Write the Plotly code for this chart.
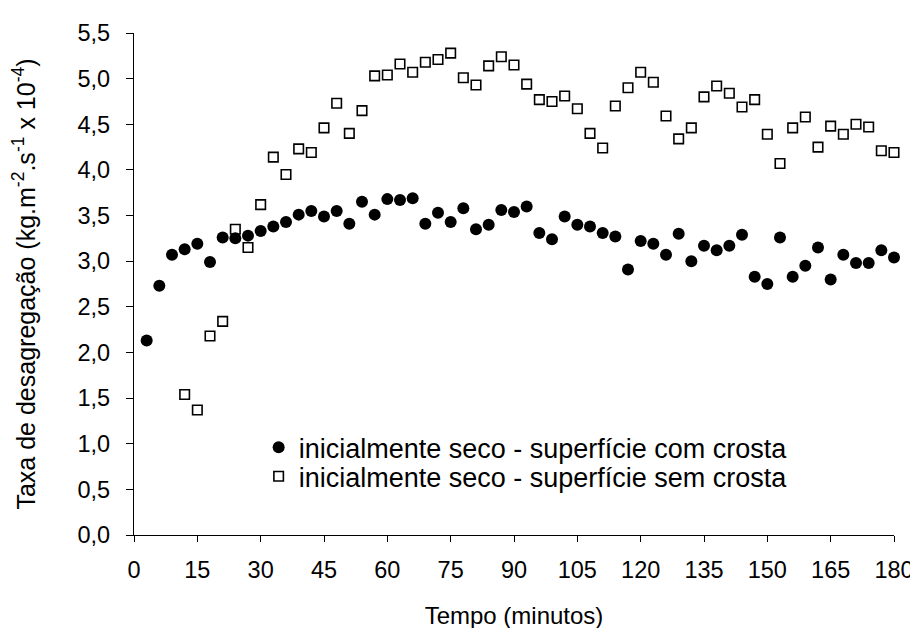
import plotly.graph_objects as go

# Time (minutes)
tempo_com = list(range(3, 181, 3))
taxa_com = [2.13, 2.73, 3.07, 3.13, 3.19, 2.99, 3.26, 3.25, 3.28, 3.33,
            3.38, 3.43, 3.51, 3.55, 3.49, 3.55, 3.41, 3.65, 3.51, 3.68,
            3.67, 3.69, 3.41, 3.53, 3.43, 3.58, 3.35, 3.40, 3.56, 3.54,
            3.60, 3.31, 3.24, 3.49, 3.40, 3.38, 3.31, 3.27, 2.91, 3.22,
            3.19, 3.07, 3.30, 3.00, 3.17, 3.12, 3.17, 3.29, 2.83, 2.75,
            3.26, 2.83, 2.95, 3.15, 2.80, 3.07, 2.98, 2.98, 3.12, 3.04]

tempo_sem = list(range(12, 181, 3))
taxa_sem = [1.54, 1.37, 2.18, 2.34, 3.35, 3.15, 3.62, 4.14, 3.95, 4.23,
            4.19, 4.46, 4.73, 4.40, 4.65, 5.03, 5.04, 5.16, 5.07, 5.18,
            5.21, 5.28, 5.01, 4.93, 5.14, 5.24, 5.15, 4.94, 4.77, 4.75,
            4.81, 4.67, 4.40, 4.24, 4.70, 4.90, 5.07, 4.96, 4.59, 4.34,
            4.46, 4.80, 4.92, 4.84, 4.69, 4.77, 4.39, 4.07, 4.46, 4.58,
            4.25, 4.48, 4.39, 4.50, 4.47, 4.21, 4.19]

x_ticks = list(range(0, 181, 15))
y_ticks = [i * 0.5 for i in range(12)]

nome_com = "inicialmente seco - superfície com crosta"
nome_sem = "inicialmente seco - superfície sem crosta"

FONT = "Arial, Liberation Sans, sans-serif"

fig = go.Figure()
fig.add_trace(go.Scatter(
    x=tempo_com, y=taxa_com, mode="markers", name=nome_com,
    marker=dict(symbol="circle", size=12, color="black", line=dict(width=0)),
    cliponaxis=False, legend="legend",
))
fig.add_trace(go.Scatter(
    x=tempo_sem, y=taxa_sem, mode="markers", name=nome_sem,
    marker=dict(symbol="square-open", size=9.5, color="black", line=dict(width=1.6, color="black")),
    cliponaxis=False, legend="legend2",
))

legend_common = dict(
    xanchor="left", yanchor="middle",
    bgcolor="rgba(0,0,0,0)", borderwidth=0,
    font=dict(family=FONT, size=27, color="black"),
    itemwidth=30,
)

fig.update_layout(
    width=918, height=628,
    margin=dict(l=126, r=23, t=21, b=90),
    paper_bgcolor="white", plot_bgcolor="white",
    separators=", ",
    font=dict(family=FONT, size=23.5, color="black"),
    showlegend=True,
    legend=dict(x=0.164, y=0.174, **legend_common),
    legend2=dict(x=0.164, y=0.116, **legend_common),
    xaxis=dict(
        range=[0, 180], tickmode="array", tickvals=x_ticks,
        ticktext=[str(v) for v in x_ticks],
        showgrid=False, zeroline=False,
        showline=True, linecolor="black", linewidth=1.2,
        ticks="outside", ticklen=6, tickcolor="black", tickwidth=1,
        ticklabelstandoff=8,
        tickfont=dict(size=23.5),
        title=dict(text="Tempo (minutos)", font=dict(size=24), standoff=24),
    ),
    yaxis=dict(
        range=[0, 5.5], tickmode="array", tickvals=y_ticks,
        ticktext=[f"{v:.1f}".replace(".", ",") for v in y_ticks],
        showgrid=False, zeroline=False,
        showline=True, linecolor="black", linewidth=1.2,
        ticks="outside", ticklen=7, tickcolor="black", tickwidth=1,
        ticklabelstandoff=11,
        tickfont=dict(size=23.5),
        title=dict(text="Taxa de desagregação (kg.m<sup>-2</sup>.s<sup>-1</sup> x 10<sup>-4</sup>)",
                   font=dict(size=25), standoff=35),
    ),
)

fig.write_html("out.html")
